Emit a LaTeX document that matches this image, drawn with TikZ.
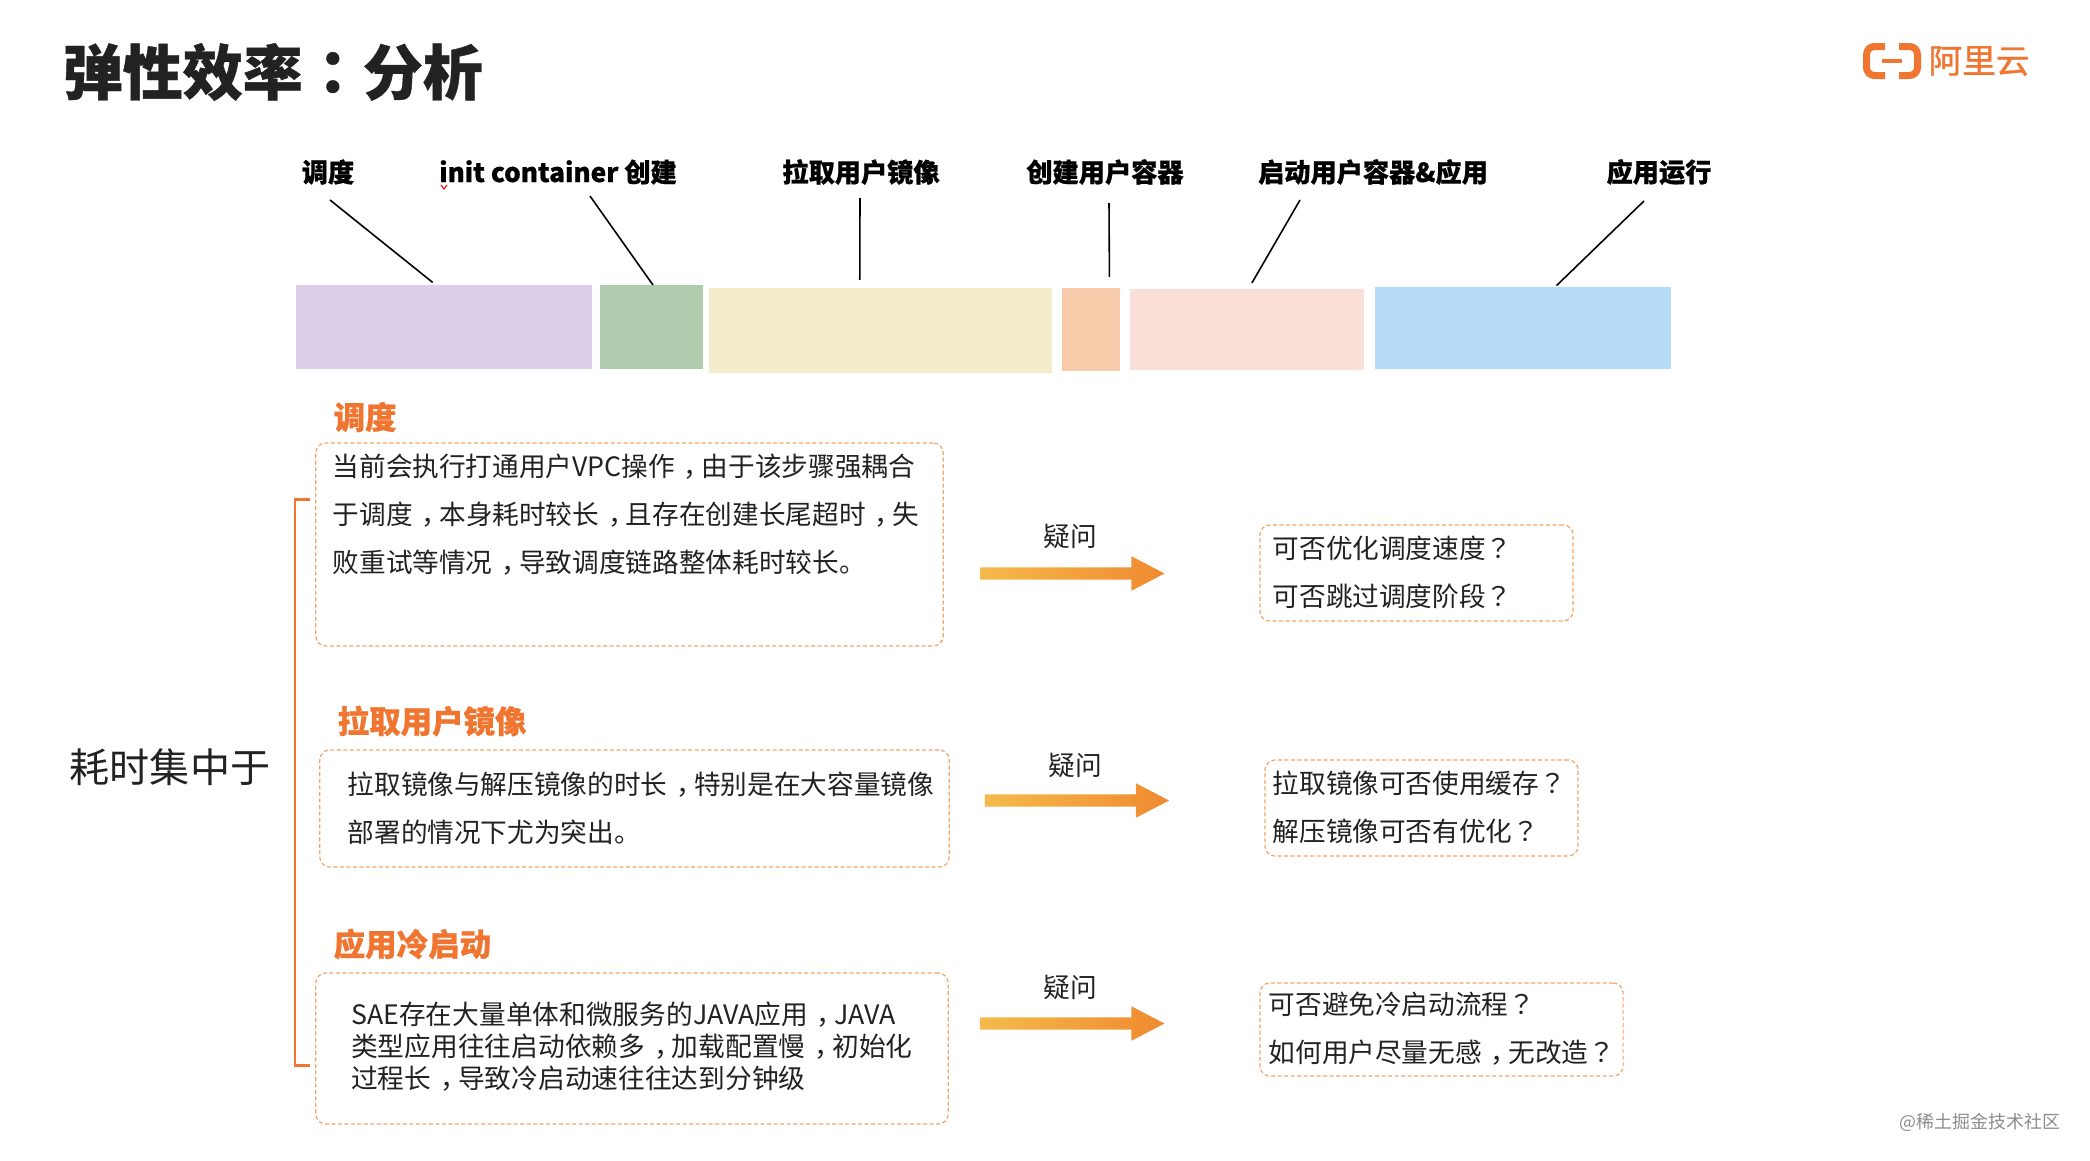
\documentclass[tikz,border=0pt]{standalone}
\usepackage{fontspec}
\setmainfont{Noto Sans CJK SC}[BoldFeatures={FakeBold=0.7}]
\newfontfamily\puncfont{Noto Sans CJK TC}[BoldFeatures={FakeBold=0.7}]
\newfontfamily\logofont{Noto Sans CJK SC}[FakeBold=1.0]
\newcommand{\pcomma}{\kern0.33em ，\kern-0.33em}
\newcommand{\pask}{{\puncfont ？}}
\newcommand{\pcolon}{{\puncfont ：}}
\usepackage{xcolor}
\usepackage{tikz}
\usetikzlibrary{shapes}
\definecolor{aliorange}{HTML}{F07530}
\definecolor{dashorange}{HTML}{F4A46A}
\definecolor{bodyink}{HTML}{222222}
\definecolor{arrowstart}{HTML}{F5BA4B}
\definecolor{arrowend}{HTML}{EF8A30}
\tikzset{
  bar/.style={rectangle, inner sep=0, outer sep=0},
  leader/.style={black, line width=0.45pt},
  phase/.style={font=\fontsize{7.45}{9}\selectfont\bfseries, text=black, inner sep=0},
  heading/.style={font=\fontsize{8.95}{11}\selectfont\bfseries, text=aliorange, anchor=west, inner sep=0},
  dashbox/.style={draw=dashorange, dash pattern=on 0.04cm off 0.025cm, line width=0.35pt, rounded corners=0.1cm, rectangle, inner sep=0, outer sep=0},
  bodytext/.style={font=\fontsize{7.58}{13.66}\selectfont, text=bodyink, anchor=west, align=left, inner sep=0},
  asklabel/.style={font=\fontsize{7.6}{9}\selectfont, text=bodyink, inner sep=0},
  flowarrow/.style={single arrow, shape border rotate=0, minimum height=1.84cm, minimum width=0.33cm, single arrow head extend=0.11cm, single arrow tip angle=55, inner sep=0.055cm, outer sep=0, left color=arrowstart, right color=arrowend, draw=none}
}
\begin{document}
\begin{tikzpicture}[x=0.01cm, y=-0.01cm]
  \useasboundingbox (0,0) rectangle (2090,1160);

  \node[font=\fontsize{17.07}{20}\selectfont\bfseries, text=bodyink, anchor=west, inner sep=0] (title) at (62, 72) {弹性效率\pcolon 分析};

  \coordinate (logoltop) at (1885, 46.5);
  \coordinate (logolbot) at (1885, 75.5);
  \coordinate (logortop) at (1899, 46.5);
  \coordinate (logorbot) at (1899, 75.5);
  \draw[aliorange, line width=0.07cm, rounded corners=0.08cm] (logoltop) -- (1866.5, 46.5) -- (1866.5, 75.5) -- (logolbot);
  \draw[aliorange, line width=0.07cm, rounded corners=0.08cm] (logortop) -- (1917.5, 46.5) -- (1917.5, 75.5) -- (logorbot);
  \coordinate (logodashl) at (1882, 61);
  \coordinate (logodashr) at (1902, 61);
  \draw[aliorange, line width=0.04cm] (logodashl) -- (logodashr);
  \node[font=\fontsize{9.55}{11}\selectfont\logofont, text=aliorange, anchor=west, inner sep=0] (logotext) at (1928, 61) {阿里云};

  \node[bar, fill={rgb,255:red,220;green,205;blue,232}, minimum width=2.96cm, minimum height=0.84cm] (barsched) at (444, 327) {};
  \node[bar, fill={rgb,255:red,175;green,205;blue,174}, minimum width=1.03cm, minimum height=0.84cm] (barinit) at (651.5, 327) {};
  \node[bar, fill={rgb,255:red,244;green,236;blue,203}, minimum width=3.43cm, minimum height=0.85cm] (barpull) at (880.5, 330.5) {};
  \node[bar, fill={rgb,255:red,247;green,203;blue,169}, minimum width=0.58cm, minimum height=0.83cm] (barcreate) at (1091, 329.5) {};
  \node[bar, fill={rgb,255:red,250;green,223;blue,216}, minimum width=2.34cm, minimum height=0.81cm] (barstart) at (1247, 329.5) {};
  \node[bar, fill={rgb,255:red,181;green,219;blue,246}, minimum width=2.96cm, minimum height=0.82cm] (barrun) at (1523, 328) {};

  \node[phase] (lblsched) at (328, 172) {调度};
  \node[phase] (lblinit) at (558, 172) {init container 创建};
  \node[phase] (lblpull) at (861, 172) {拉取用户镜像};
  \node[phase] (lblcreate) at (1105, 172) {创建用户容器};
  \node[phase] (lblstart) at (1373, 172) {启动用户容器\&应用};
  \node[phase] (lblrun) at (1659, 172) {应用运行};

  \coordinate (spella) at (441, 185);
  \coordinate (spellb) at (444, 189);
  \coordinate (spellc) at (447, 185);
  \draw[red, line width=0.3pt] (spella) -- (spellb) -- (spellc);

  \coordinate (leadsched) at (330, 200);
  \coordinate (leadinit) at (590, 196);
  \coordinate (leadpull) at (860, 198);
  \coordinate (leadcreate) at (1109, 203);
  \coordinate (leadstart) at (1300, 200);
  \coordinate (leadrun) at (1644, 201);
  \draw[leader, shorten >=0.04cm] (leadsched) -- (barsched.101);
  \draw[leader] (leadinit) -- (barinit.88);
  \draw[leader, shorten >=0.08cm] (leadpull) -- (barpull.116);
  \draw[leader, shorten >=0.11cm] (leadcreate) -- (barcreate.66);
  \draw[leader, shorten >=0.07cm] (leadstart) -- (barstart.88);
  \draw[leader, shorten >=0.02cm] (leadrun) -- (barrun.52);

  \node[font=\fontsize{11.4}{14}\selectfont, text=bodyink, inner sep=0] (summary) at (170, 767) {耗时集中于};
  \coordinate (bracetop) at (310, 499);
  \coordinate (bracebot) at (310, 1065);
  \draw[aliorange, line width=0.85pt] (bracetop) -- (295, 499) -- (295, 1065) -- (bracebot);

  \node[heading] (headsched) at (333, 417) {调度};
  \node[dashbox, minimum width=6.27cm, minimum height=2.03cm] (boxsched) at (629.5, 544.5) {};
  \node[bodytext] (textsched) at (332, 514.5) {当前会执行打通用户VPC操作\pcomma 由于该步骤强耦合\\于调度\pcomma 本身耗时较长\pcomma 且存在创建长尾超时\pcomma 失\\败重试等情况\pcomma 导致调度链路整体耗时较长。};

  \node[heading] (headpull) at (337, 721) {拉取用户镜像};
  \node[dashbox, minimum width=6.29cm, minimum height=1.17cm] (boxpull) at (634.5, 808.5) {};
  \node[bodytext] (textpull) at (347, 808) {拉取镜像与解压镜像的时长\pcomma 特别是在大容量镜像\\部署的情况下尤为突出。};

  \node[heading] (headcold) at (333, 944) {应用冷启动};
  \node[dashbox, minimum width=6.32cm, minimum height=1.51cm] (boxcold) at (632, 1048.5) {};
  \node[bodytext, font=\fontsize{7.6}{9.1}\selectfont] (textcold) at (350.5, 1047) {SAE存在大量单体和微服务的JAVA应用\pcomma JAVA\\类型应用往往启动依赖多\pcomma 加载配置慢\pcomma 初始化\\过程长\pcomma 导致冷启动速往往达到分钟级};

  \node[asklabel] (asksched) at (1070, 536) {疑问};
  \node[flowarrow] (arrowsched) at (1066.5, 573.5) {};
  \node[asklabel] (askpull) at (1075, 765) {疑问};
  \node[flowarrow] (arrowpull) at (1071, 800.5) {};
  \node[asklabel] (askcold) at (1070, 987) {疑问};
  \node[flowarrow] (arrowcold) at (1066.5, 1023.5) {};

  \node[dashbox, minimum width=3.13cm, minimum height=0.96cm] (boxaska) at (1416.5, 573) {};
  \node[bodytext] (textaska) at (1272, 572) {可否优化调度速度\pask\\可否跳过调度阶段\pask};
  \node[dashbox, minimum width=3.13cm, minimum height=0.96cm] (boxaskb) at (1421.5, 808) {};
  \node[bodytext] (textaskb) at (1272, 807) {拉取镜像可否使用缓存\pask\\解压镜像可否有优化\pask};
  \node[dashbox, minimum width=3.63cm, minimum height=0.93cm] (boxaskc) at (1441.5, 1029.5) {};
  \node[bodytext] (textaskc) at (1268, 1029) {可否避免冷启动流程\pask\\如何用户尽量无感\pcomma 无改造\pask};

  \node[font=\fontsize{5.1}{7}\selectfont, text=black!45, anchor=east, inner sep=0] (mark) at (2061, 1122) {@稀土掘金技术社区};
\end{tikzpicture}
\end{document}
